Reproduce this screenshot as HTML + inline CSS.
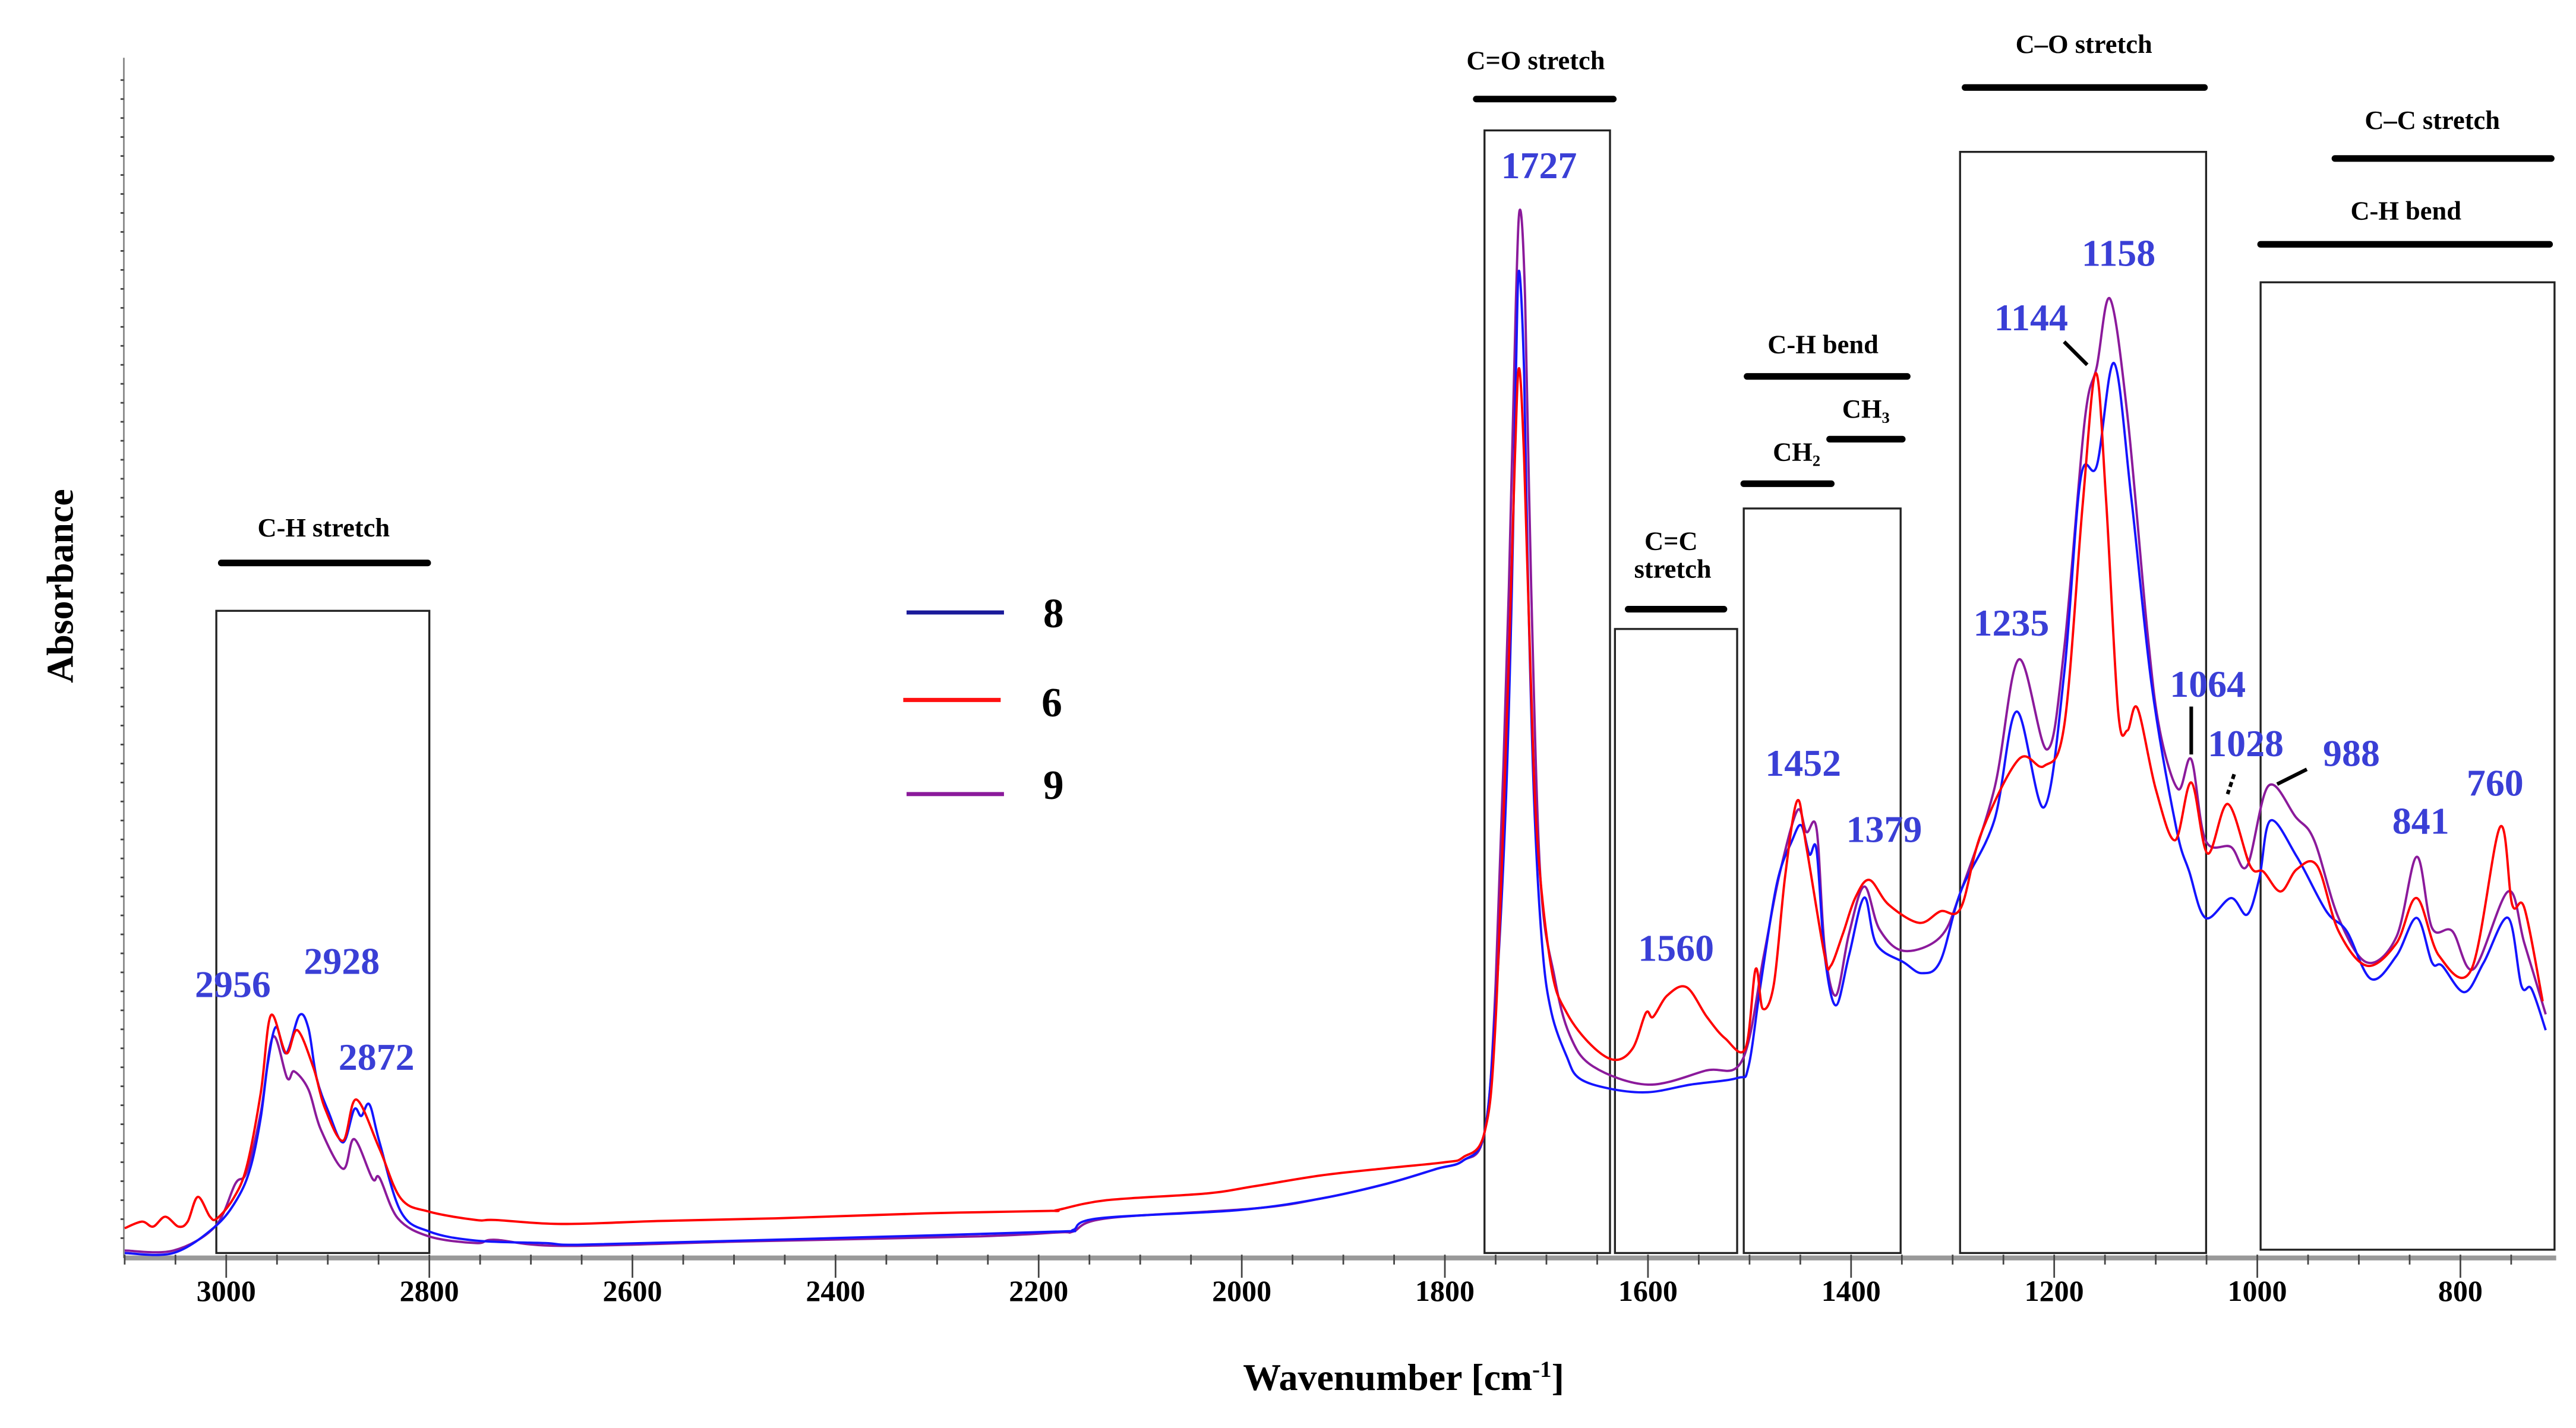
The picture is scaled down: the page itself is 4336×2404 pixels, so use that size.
<!DOCTYPE html>
<html><head><meta charset="utf-8"><style>
html,body{margin:0;padding:0;background:#fff;}
svg{display:block;}
text{font-family:"Liberation Serif",serif;font-weight:bold;}
.lbl{fill:#000;font-size:16px;text-anchor:middle;}
.pk{fill:#3a3fd6;font-size:23px;text-anchor:middle;}
.tk{fill:#000;font-size:18px;text-anchor:middle;}
</style></head><body>
<svg id="chart" width="4336" height="2404" viewBox="0 0 1560 865" preserveAspectRatio="none" xmlns="http://www.w3.org/2000/svg">
<rect x="0" y="0" width="1560" height="865" fill="#fff"/>
<g id="boxes" fill="none" stroke="#222" stroke-width="1.2">
<rect x="131" y="370" width="129" height="389"/>
<rect x="899" y="79" width="76" height="680"/>
<rect x="978" y="381" width="74" height="378"/>
<rect x="1056" y="308" width="95" height="451"/>
<rect x="1187" y="92" width="149" height="667"/>
<rect x="1369" y="171" width="178" height="586"/>
</g>
<g id="bars" stroke="#000" stroke-width="4" stroke-linecap="round">
<line x1="134" y1="341" x2="259" y2="341"/>
<line x1="894" y1="60" x2="977" y2="60"/>
<line x1="986" y1="369" x2="1044" y2="369"/>
<line x1="1058" y1="228" x2="1155" y2="228"/>
<line x1="1056" y1="293" x2="1109" y2="293"/>
<line x1="1108" y1="266" x2="1152" y2="266"/>
<line x1="1190" y1="53" x2="1335" y2="53"/>
<line x1="1414" y1="96" x2="1545" y2="96"/>
<line x1="1369" y1="148" x2="1544" y2="148"/>
</g>
<g>
<text class="lbl" x="196" y="325">C-H stretch</text>
<text class="lbl" x="930" y="42">C=O stretch</text>
<text class="lbl" x="1012" y="333">C=C</text>
<text class="lbl" x="1013" y="350">stretch</text>
<text class="lbl" x="1104" y="214">C-H bend</text>
<text class="lbl" x="1088" y="279">CH₂</text>
<text class="lbl" x="1130" y="253">CH₃</text>
<text class="lbl" x="1262" y="32">C–O stretch</text>
<text class="lbl" x="1473" y="78">C–C stretch</text>
<text class="lbl" x="1457" y="133">C-H bend</text>
</g>
<g id="axes"></g>
<g id="series"></g>
<g>
<text class="pk" x="141" y="604">2956</text>
<text class="pk" x="207" y="590">2928</text>
<text class="pk" x="228" y="648">2872</text>
<text class="pk" x="932" y="108">1727</text>
<text class="pk" x="1015" y="582">1560</text>
<text class="pk" x="1092" y="470">1452</text>
<text class="pk" x="1141" y="510">1379</text>
<text class="pk" x="1218" y="385">1235</text>
<text class="pk" x="1230" y="200">1144</text>
<text class="pk" x="1283" y="161">1158</text>
<text class="pk" x="1337" y="422">1064</text>
<text class="pk" x="1360" y="458">1028</text>
<text class="pk" x="1424" y="464">988</text>
<text class="pk" x="1466" y="505">841</text>
<text class="pk" x="1511" y="482">760</text>
</g>
<g stroke="#000" stroke-width="2.2">
<line x1="1250" y1="207" x2="1264" y2="221"/>
<line x1="1327" y1="428" x2="1327" y2="457"/>
<line x1="1353" y1="469" x2="1349" y2="481" stroke-dasharray="3,2"/>
<line x1="1379" y1="475" x2="1397" y2="466"/>
</g>
<g>
<line x1="549" y1="371" x2="608" y2="371" stroke="#1a1a9a" stroke-width="2.5"/>
<text x="638" y="380" font-size="25" text-anchor="middle">8</text>
<line x1="547" y1="424" x2="606" y2="424" stroke="#ff1010" stroke-width="2.5"/>
<text x="637" y="434" font-size="25" text-anchor="middle">6</text>
<line x1="549" y1="481" x2="608" y2="481" stroke="#8b1a9b" stroke-width="2.5"/>
<text x="638" y="484" font-size="25" text-anchor="middle">9</text>
</g>
<text x="850" y="842" font-size="23" text-anchor="middle">Wavenumber [cm<tspan font-size="14" dy="-8">-1</tspan><tspan dy="8">]</tspan></text>
<text x="0" y="0" font-size="23" text-anchor="middle" transform="translate(44,355) rotate(-90)">Absorbance</text>
</svg>
<script>
const xTicks = [3000, 2800, 2600, 2400, 2200, 2000, 1800, 1600, 1400, 1200, 1000, 800];
const xTickLabels = ["3000","2800","2600","2400","2200","2000","1800","1600","1400","1200","1000","800"];
const blueW = [3100,3052,3011,2989,2976,2966,2959,2951,2941,2928,2919,2911,2899,2885,2874,2867,2859,2849,2828,2800,2754,2686,2654,2524,2345,2180,2166,2141,2003,1922,1857,1808,1782,1761,1750,1740,1734,1730,1727,1722,1718,1712,1704,1695,1680,1668,1638,1600,1558,1512,1501,1489,1473,1458,1449,1441,1434,1426,1415,1402,1387,1375,1348,1330,1312,1292,1259,1237,1210,1190,1174,1158,1141,1124,1104,1080,1067,1051,1026,1010,998,987,961,932,912,888,863,843,828,818,796,777,753,740,730,716];
const blueA = [0.03,0.03,0.19,0.36,0.55,0.85,1.18,1.40,1.24,1.47,1.39,1.09,0.88,0.70,0.90,0.86,0.93,0.70,0.28,0.16,0.105,0.09,0.08,0.10,0.13,0.16,0.17,0.24,0.29,0.36,0.45,0.54,0.59,0.76,1.53,2.75,4.06,5.37,5.98,5.37,4.06,2.75,1.88,1.485,1.22,1.09,1.026,1.004,1.05,1.09,1.16,1.66,2.27,2.53,2.62,2.445,2.47,1.834,1.53,1.834,2.183,1.90,1.79,1.725,1.80,2.22,2.65,3.31,2.73,3.55,4.72,4.80,5.42,4.60,3.47,2.61,2.34,2.06,2.18,2.08,2.30,2.65,2.43,2.10,1.98,1.69,1.83,2.06,1.79,1.77,1.61,1.79,2.06,1.65,1.63,1.38];
const redW = [3100,3083,3072,3060,3047,3038,3028,3016,3009,2993,2980,2966,2956,2941,2930,2914,2903,2885,2872,2849,2828,2800,2754,2735,2670,2572,2459,2312,2190,2182,2133,2036,1987,1922,1857,1800,1782,1761,1750,1737,1731,1727,1722,1716,1709,1695,1680,1656,1633,1615,1602,1595,1581,1562,1542,1524,1504,1494,1487,1476,1465,1453,1444,1426,1420,1408,1396,1382,1363,1333,1312,1292,1272,1235,1210,1190,1172,1159,1149,1137,1128,1118,1100,1081,1065,1049,1029,1007,994,977,961,941,920,892,863,843,821,789,761,749,737,719];
const redA = [0.18,0.22,0.19,0.25,0.19,0.22,0.37,0.25,0.24,0.36,0.55,1.00,1.47,1.24,1.38,1.15,0.91,0.71,0.96,0.66,0.36,0.28,0.23,0.23,0.206,0.224,0.24,0.27,0.285,0.29,0.35,0.39,0.435,0.50,0.544,0.58,0.61,0.76,1.44,3.62,4.85,5.39,4.85,3.62,2.53,1.75,1.485,1.29,1.20,1.27,1.485,1.46,1.59,1.64,1.46,1.33,1.27,1.75,1.51,1.66,2.31,2.77,2.49,1.83,1.77,1.965,2.18,2.29,2.14,2.03,2.10,2.12,2.57,3.02,2.98,3.23,4.56,5.36,4.60,3.31,3.195,3.33,2.84,2.53,2.88,2.45,2.75,2.375,2.34,2.22,2.355,2.375,1.98,1.77,1.906,2.18,1.83,1.75,2.61,2.14,2.12,1.555];
const purpleW = [3100,3052,3011,2991,2980,2966,2954,2940,2933,2919,2907,2885,2874,2856,2849,2831,2800,2754,2735,2670,2491,2263,2180,2166,2133,1987,1922,1857,1808,1782,1761,1750,1737,1730,1726,1721,1715,1706,1692,1677,1654,1600,1543,1507,1486,1471,1453,1444,1434,1426,1415,1402,1387,1372,1348,1312,1292,1259,1235,1207,1190,1170,1158,1145,1128,1108,1096,1078,1065,1051,1026,1010,989,962,944,920,892,863,843,828,808,787,753,737,716];
const purpleA = [0.045,0.045,0.19,0.45,0.52,0.88,1.34,1.09,1.13,1.02,0.78,0.54,0.72,0.48,0.485,0.24,0.13,0.09,0.11,0.073,0.10,0.13,0.155,0.16,0.24,0.30,0.36,0.45,0.54,0.59,0.76,1.66,4.06,5.81,6.35,5.81,4.06,2.31,1.70,1.35,1.16,1.05,1.135,1.20,1.83,2.31,2.71,2.58,2.60,1.88,1.59,1.965,2.25,1.99,1.86,1.945,2.22,2.84,3.625,3.08,3.70,5.07,5.40,5.81,5.11,3.78,3.195,2.84,3.02,2.53,2.49,2.375,2.86,2.67,2.53,2.06,1.79,1.945,2.43,2.00,1.98,1.75,2.22,1.906,1.476];

const NS = 'http://www.w3.org/2000/svg';
function xScale(w){ return 137 + (3000 - w) * 0.615; }
function yScale(a){ return 762 - a * 100; }
const axes = document.getElementById('axes');
const series = document.getElementById('series');
function mk(tag, attrs, parent){
  const el = document.createElementNS(NS, tag);
  for (const k in attrs) el.setAttribute(k, attrs[k]);
  parent.appendChild(el);
  return el;
}
let xa = mk('line', {x1:75, y1:762, x2:1548, y2:762, stroke:'#999', 'stroke-width':3}, axes);


let ya = mk('line', {x1:75, y1:35, x2:75, y2:762, stroke:'#888', 'stroke-width':1}, axes);


for (let y = 750; y > 38; y -= 11.5) {
  let t = mk('line', {x1:73, y1:y, x2:75, y2:y, stroke:'#444', 'stroke-width':1}, axes);
  
  
}
for (let w = 3100; w >= 710; w -= 50) {
  const major = w % 200 === 0;
  let t = mk('line', {x1:xScale(w), y1:760, x2:xScale(w), y2: major ? 774 : 766, stroke:'#444', 'stroke-width':1}, axes);
  
  
}
xTicks.forEach((w, i) => {
  let t = mk('text', {x:xScale(w), y:788, class:'tk'}, axes);
  t.textContent = xTickLabels[i];
  
  
});
function drawSeries(W, A, color, name){
  const P = W.map((w, i) => [xScale(w), yScale(A[i])]);
  let d = 'M' + P[0][0].toFixed(2) + ',' + P[0][1].toFixed(2);
  const t = 0.5;
  for (let i = 0; i < P.length - 1; i++) {
    const p0 = P[Math.max(0, i - 1)], p1 = P[i], p2 = P[i + 1], p3 = P[Math.min(P.length - 1, i + 2)];
    const c1x = p1[0] + (p2[0] - p0[0]) * t / 3, c1y = p1[1] + (p2[1] - p0[1]) * t / 3;
    const c2x = p2[0] - (p3[0] - p1[0]) * t / 3, c2y = p2[1] - (p3[1] - p1[1]) * t / 3;
    d += 'C' + c1x.toFixed(2) + ',' + c1y.toFixed(2) + ' ' + c2x.toFixed(2) + ',' + c2y.toFixed(2) + ' ' + p2[0].toFixed(2) + ',' + p2[1].toFixed(2);
  }
  let p = mk('path', {d:d, fill:'none', stroke:color, 'stroke-width':1.4, 'stroke-linejoin':'round'}, series);
  
  
}
drawSeries(purpleW, purpleA, '#8b1a9b', 'series-9-line');
drawSeries(blueW, blueA, '#1414ff', 'series-8-line');
drawSeries(redW, redA, '#ff0000', 'series-6-line');
</script>
</body></html>
